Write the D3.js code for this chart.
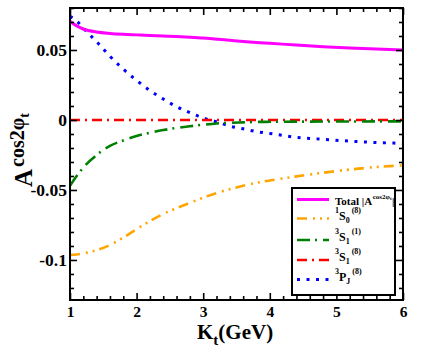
<!DOCTYPE html>
<html>
<head>
<meta charset="utf-8">
<script src="https://cdn.jsdelivr.net/npm/d3@7/dist/d3.min.js"></script>
<style>
  body { margin: 0; background: #fff; }
  svg { display: block; font-family: "Liberation Serif", "DejaVu Serif", serif; font-weight: bold; }
</style>
</head>
<body>
<div id="chart"></div>
<script>
const kt = [1.0, 1.1, 1.2, 1.4, 1.6, 1.8, 2.0, 2.2, 2.4, 2.6, 2.8, 3.0, 3.2, 3.4, 3.6, 3.8, 4.0, 4.4, 4.8, 5.2, 5.6, 6.0];

const total = [0.0705, 0.0672, 0.0650, 0.0628, 0.0618, 0.0612, 0.0608, 0.0604, 0.0600, 0.0596, 0.0591, 0.0585,
  0.0577, 0.0569, 0.0561, 0.0554, 0.0548, 0.0535, 0.0524, 0.0515, 0.0507, 0.0500];
const s1s08 = [-0.0965, -0.0961, -0.0953, -0.0930, -0.0893, -0.0840, -0.0780, -0.0722, -0.0671, -0.0630, -0.0592, -0.0555,
  -0.0522, -0.0494, -0.0470, -0.0449, -0.0432, -0.0403, -0.0377, -0.0354, -0.0336, -0.0324];
const s3s11 = [-0.0470, -0.0400, -0.0340, -0.0250, -0.0185, -0.0146, -0.0114, -0.0091, -0.0072, -0.0057, -0.0045, -0.0034,
  -0.0025, -0.0020, -0.0017, -0.0014, -0.0013, -0.0012, -0.0011, -0.0011, -0.0010, -0.0010];
const s3s18 = [0, 0, 0, 0, 0, 0, 0, 0, 0, 0, 0, 0, 0, 0, 0, 0, 0, 0, 0, 0, 0, 0];
const s3pj8 = [0.0740, 0.0708, 0.0656, 0.0559, 0.0455, 0.0363, 0.0283, 0.0211, 0.0150, 0.0095, 0.0053, 0.0014,
  -0.0013, -0.0044, -0.0063, -0.0083, -0.0096, -0.0124, -0.0138, -0.0151, -0.0161, -0.0167];

const xTicks = [1, 2, 3, 4, 5, 6];
const yTicks = [0.05, 0, -0.05, -0.1];
const yTickLabels = ['0.05', '0', '-0.05', '-0.1'];

const W = 436, H = 354;
const plotL = 70, plotR = 403, plotT = 8, plotB = 300;

const svg = d3.select('#chart').append('svg')
  .attr('width', W)
  .attr('height', H);

const x = d3.scaleLinear().domain([1, 6]).range([plotL, plotR]);
const y = d3.scaleLinear().domain([-0.1286, 0.08]).range([plotB, plotT]);

const xMinor = d3.range(1, 6.001, 0.2).filter(v => Math.abs(v - Math.round(v)) > 1e-6);
const yMinor = d3.range(-0.12, 0.0801, 0.01).filter(v => Math.abs(v / 0.05 - Math.round(v / 0.05)) > 1e-6);

// curves
const series = [
  { key: 'total', vals: total, color: '#ff00ff', width: 3, dash: null },
  { key: '1s08', vals: s1s08, color: '#ffa500', width: 2.6, dash: '10 6 2 5 2 5' },
  { key: '3s11', vals: s3s11, color: '#008000', width: 2.6, dash: '13 5 2 6' },
  { key: '3s18', vals: s3s18, color: '#ff0000', width: 2.6, dash: '10 5 2 5' },
  { key: '3pj8', vals: s3pj8, color: '#0000ff', width: 3, dash: '3 6.5' },
];

const line = d3.line()
  .curve(d3.curveMonotoneX)
  .x((d, i) => x(kt[i]))
  .y(d => y(d));

const plot = svg.append('g');
plot.append('clipPath').attr('id', 'clip')
  .append('rect').attr('x', plotL).attr('y', plotT).attr('width', plotR - plotL).attr('height', plotB - plotT);

series.slice().reverse().forEach(s => {
  plot.append('path')
    .datum(s.vals)
    .attr('clip-path', 'url(#clip)')
    .attr('fill', 'none')
    .attr('stroke', s.color)
    .attr('stroke-width', s.width)
    .attr('stroke-dasharray', s.dash)
    .attr('d', line);
});

// axes: inward ticks on all four sides
function styleAxis(g) {
  g.select('.domain').remove();
  g.selectAll('.tick line').attr('stroke', '#000').attr('stroke-width', 1.6);
  g.selectAll('.tick text').attr('font-family', 'Liberation Serif').attr('font-weight', 'bold').attr('fill', '#000');
}

svg.append('g').attr('transform', `translate(0,${plotB})`)
  .call(d3.axisBottom(x).tickValues(xTicks).tickSize(-7).tickFormat(d3.format('d')))
  .call(styleAxis)
  .call(g => g.selectAll('.tick text').attr('font-size', 15.5).attr('dy', 0).attr('y', 16.5));
svg.append('g').attr('transform', `translate(0,${plotB})`)
  .call(d3.axisBottom(x).tickValues(xMinor).tickSize(-4).tickFormat(''))
  .call(styleAxis);
svg.append('g').attr('transform', `translate(0,${plotT})`)
  .call(d3.axisTop(x).tickValues(xTicks).tickSize(-7).tickFormat(''))
  .call(styleAxis);
svg.append('g').attr('transform', `translate(0,${plotT})`)
  .call(d3.axisTop(x).tickValues(xMinor).tickSize(-4).tickFormat(''))
  .call(styleAxis);

svg.append('g').attr('transform', `translate(${plotL},0)`)
  .call(d3.axisLeft(y).tickValues(yTicks).tickSize(-7).tickFormat((d, i) => yTickLabels[i]))
  .call(styleAxis)
  .call(g => g.selectAll('.tick text').attr('font-size', 17.5).attr('x', -3));
svg.append('g').attr('transform', `translate(${plotL},0)`)
  .call(d3.axisLeft(y).tickValues(yMinor).tickSize(-4).tickFormat(''))
  .call(styleAxis);
svg.append('g').attr('transform', `translate(${plotR},0)`)
  .call(d3.axisRight(y).tickValues(yTicks).tickSize(-7).tickFormat(''))
  .call(styleAxis);
svg.append('g').attr('transform', `translate(${plotR},0)`)
  .call(d3.axisRight(y).tickValues(yMinor).tickSize(-4).tickFormat(''))
  .call(styleAxis);

svg.append('rect')
  .attr('x', plotL).attr('y', plotT)
  .attr('width', plotR - plotL).attr('height', plotB - plotT)
  .attr('fill', 'none').attr('stroke', '#000').attr('stroke-width', 2);

// axis titles
const xt = svg.append('text')
  .attr('x', 197).attr('y', 338.5)
  .attr('font-size', 21);
xt.append('tspan').text('K');
xt.append('tspan').attr('font-size', 15).attr('dy', 6).text('t');
xt.append('tspan').attr('dy', -6).text('(GeV)');

const yt = svg.append('text')
  .attr('transform', 'translate(32,187) rotate(-90)')
  .attr('font-size', 25);
yt.append('tspan').text('A');
yt.append('tspan').attr('font-size', 20).attr('dy', -8).attr('dx', 2).text('cos2φ');
yt.append('tspan').attr('font-size', 14).attr('dy', 5).text('t');

// legend
const legend = svg.append('g');
legend.append('rect')
  .attr('x', 292).attr('y', 188)
  .attr('width', 103).attr('height', 107)
  .attr('fill', '#fff').attr('stroke', '#000').attr('stroke-width', 2);

const rowY = [199.5, 218.5, 240, 260, 279.5];
// [text, font size, baseline offset from the row, extra dx]
const legendLabels = [
  [['Total |A', 11, 5.5, 0], ['cos2φ', 7, -1, 0.5], ['t', 5, 0.5, 0], ['|', 11, 5.5, 0.5]],
  [['1', 8, -6, 0], ['S', 12, 1, 0], ['0', 8, 4, 0], ['(8)', 8, -6, 2]],
  [['3', 8, -6, 0], ['S', 12, 1, 0], ['1', 8, 4, 0], ['(1)', 8, -6, 2]],
  [['3', 8, -6, 0], ['S', 12, 1, 0], ['1', 8, 4, 0], ['(8)', 8, -6, 2]],
  [['3', 8, -6, 0], ['P', 12, 1, 0], ['J', 8, 4, 0], ['(8)', 8, -6, 2]],
];

series.forEach((s, i) => {
  const ry = rowY[i];
  legend.append('line')
    .attr('x1', 297).attr('x2', 329)
    .attr('y1', ry).attr('y2', ry)
    .attr('stroke', s.color)
    .attr('stroke-width', s.width)
    .attr('stroke-dasharray', s.dash);
  const t = legend.append('text')
    .attr('x', 335)
    .attr('y', ry);
  legendLabels[i].forEach(([str, size, off, dx]) => {
    t.append('tspan')
      .attr('font-size', size)
      .attr('y', ry + off)
      .attr('dx', dx)
      .text(str);
  });
});
</script>
</body>
</html>
